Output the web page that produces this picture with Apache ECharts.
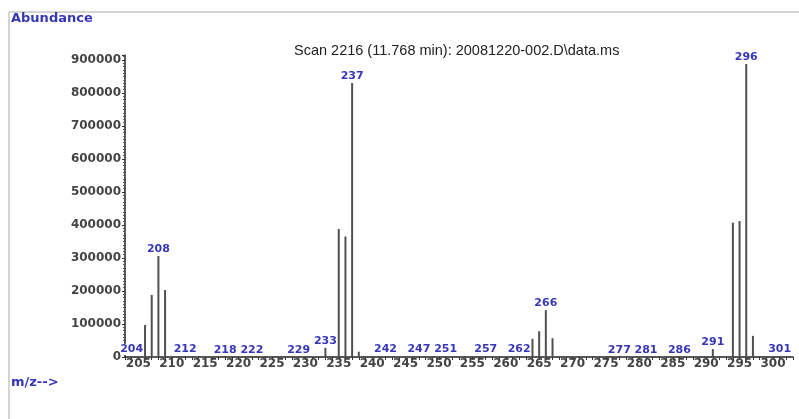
<!DOCTYPE html>
<html>
<head>
<meta charset="utf-8">
<script src="https://cdn.jsdelivr.net/npm/echarts@6/dist/echarts.min.js"></script>
<style>html,body{margin:0;padding:0;background:#fff}#chart{width:799px;height:419px}</style>
</head>
<body>
<div id="chart"></div>
<script>
// m/z values and abundances
var mzValues =  [204, 206, 207, 208, 209, 212, 218, 222, 229, 233, 235, 236, 237, 238, 242, 247, 251, 257, 262, 264, 265, 266, 267, 277, 281, 286, 291, 294, 295, 296, 297, 301];
var abundance = [3000, 97000, 188000, 306000, 203000, 3000, 2500, 2500, 2500, 28000, 388000, 365000, 830000, 16000, 3000, 3000, 3000, 3000, 3000, 55000, 78000, 142000, 57000, 2500, 2500, 2500, 24000, 407000, 412000, 888000, 64000, 3000];
var labelledMz = [204, 208, 212, 218, 222, 229, 233, 237, 242, 247, 251, 257, 262, 266, 277, 281, 286, 291, 296, 301];
var yTicks = [0, 100000, 200000, 300000, 400000, 500000, 600000, 700000, 800000, 900000];
var titleText = 'Scan 2216 (11.768 min): 20081220-002.D\\data.ms';

var blue = '#3636b8';
var data = mzValues.map(function (m, i) {
  return {
    value: [m, abundance[i]],
    label: { show: labelledMz.indexOf(m) >= 0 }
  };
});

var chart = echarts.init(document.getElementById('chart'));
chart.setOption({
  animation: false,
  backgroundColor: '#fff',
  title: {
    text: titleText,
    left: 289, top: 38,
    textStyle: { fontFamily: 'Liberation Sans', fontSize: 14.5, fontWeight: 'normal', color: '#222' }
  },
  grid: { left: 125, right: 6, top: 55, bottom: 62 },
  xAxis: {
    type: 'value', min: 203, max: 303, interval: 1,
    axisLine: { show: true, onZero: false, lineStyle: { color: '#222', width: 1.5 } },
    axisTick: { show: true, length: 3, lineStyle: { color: '#333' } },
    splitLine: { show: false },
    axisLabel: {
      margin: 1,
      fontFamily: 'DejaVu Sans', fontWeight: 'bold', fontSize: 12, color: '#444',
      formatter: function (v) { return (v % 5 === 0) ? String(v) : ''; }
    }
  },
  yAxis: {
    type: 'value', min: 0, max: 915000, interval: 100000,
    axisLine: { show: true, lineStyle: { color: '#222', width: 1.5 } },
    axisTick: { show: true, length: 3, lineStyle: { color: '#333' } },
    minorTick: { show: true, splitNumber: 10, length: 2, lineStyle: { color: '#555' } },
    splitLine: { show: false },
    axisLabel: {
      margin: 4,
      fontFamily: 'DejaVu Sans', fontWeight: 'bold', fontSize: 12, color: '#444',
      formatter: function (v) { return yTicks.indexOf(v) >= 0 ? String(v) : ''; }
    }
  },
  graphic: [
    { type: 'line', shape: { x1: 9, y1: 12, x2: 799, y2: 12 }, style: { stroke: '#d4d4d4', lineWidth: 2 }, silent: true },
    { type: 'line', shape: { x1: 9, y1: 12, x2: 9, y2: 419 }, style: { stroke: '#d4d4d4', lineWidth: 2 }, silent: true },
    { type: 'text', left: 11, top: 12, style: { text: 'Abundance', fill: blue, font: 'bold 13px "DejaVu Sans"' } },
    { type: 'text', left: 11, top: 376, style: { text: 'm/z-->', fill: blue, font: 'bold 13px "DejaVu Sans"' } }
  ],
  series: [{
    type: 'bar',
    barWidth: 2,
    itemStyle: { color: '#505050' },
    label: {
      show: false, position: 'top', distance: 1,
      fontFamily: 'DejaVu Sans', fontWeight: 'bold', fontSize: 11, color: blue,
      backgroundColor: '#fff', padding: [0, 0, 0, 0],
      formatter: function (p) { return String(p.value[0]); }
    },
    data: data
  }]
});
</script>
</body>
</html>
